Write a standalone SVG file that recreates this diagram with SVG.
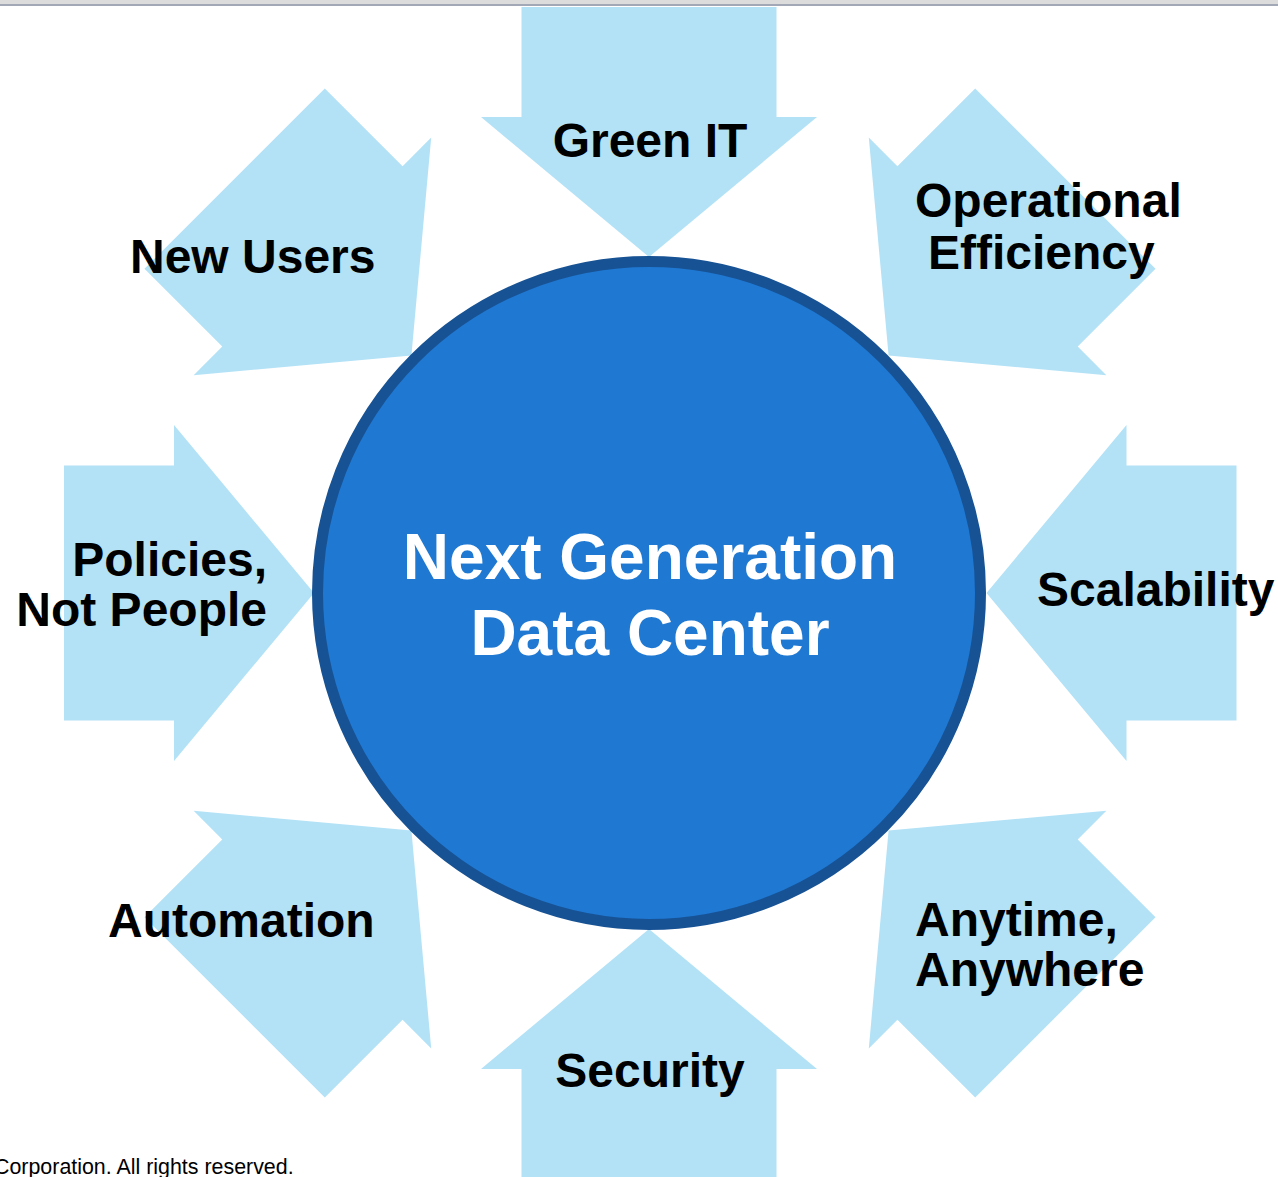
<svg xmlns="http://www.w3.org/2000/svg" xmlns:xlink="http://www.w3.org/1999/xlink" width="1278" height="1177" viewBox="0 0 1278 1177">
  <style>
    .arrow { fill: #b3e2f7; }
    .lbl { font-family: "Liberation Sans", Arial, sans-serif; font-weight: bold; font-size: 48px; fill: #000; }
    .mid { text-anchor: middle; }
    .hub { fill: #1f78d2; stroke: #175294; stroke-width: 11; }
    .hubtxt { font-family: "Liberation Sans", Arial, sans-serif; font-weight: bold; font-size: 64px; fill: #fff; text-anchor: middle; }
    .copy { font-family: "Liberation Sans", Arial, sans-serif; font-size: 21.4px; fill: #000; }
  </style>
  <defs>
    <path id="arr" d="M-127.5,-586 H127.5 V-476 H168 L0,-336 L-168,-476 H-127.5 Z"/>
  </defs>
  <rect x="0" y="0" width="1278" height="1177" fill="#fff"/>
  <rect x="0" y="0" width="1278" height="4" fill="#dcdcdc"/>
  <rect x="0" y="4" width="1278" height="2" fill="#a3a8b6"/>

  <g id="arrow-shapes">
    <use xlink:href="#arr" href="#arr" class="arrow" transform="translate(649,593)"/>
    <use xlink:href="#arr" href="#arr" class="arrow" transform="translate(651,593) rotate(45)"/>
    <use xlink:href="#arr" href="#arr" class="arrow" transform="translate(650.5,593) rotate(90)"/>
    <use xlink:href="#arr" href="#arr" class="arrow" transform="translate(651,593) rotate(135)"/>
    <use xlink:href="#arr" href="#arr" class="arrow" transform="translate(649,593) rotate(180)"/>
    <use xlink:href="#arr" href="#arr" class="arrow" transform="translate(649,593) rotate(-135)"/>
    <use xlink:href="#arr" href="#arr" class="arrow" transform="translate(650,593) rotate(-90)"/>
    <use xlink:href="#arr" href="#arr" class="arrow" transform="translate(649,593) rotate(-45)"/>
  </g>

  <g id="center">
    <circle class="hub" cx="649" cy="593" r="331.5"/>
    <text class="hubtxt" x="650" y="579">Next Generation</text>
    <text class="hubtxt" x="650" y="655">Data Center</text>
  </g>

  <g id="green-it"><text class="lbl mid" x="650" y="157">Green IT</text></g>
  <g id="operational-efficiency">
    <text class="lbl" x="915" y="217">Operational</text>
    <text class="lbl" x="928" y="269">Efficiency</text>
  </g>
  <g id="scalability"><text class="lbl" x="1037" y="606">Scalability</text></g>
  <g id="anytime-anywhere">
    <text class="lbl" x="915" y="936">Anytime,</text>
    <text class="lbl" x="915" y="986">Anywhere</text>
  </g>
  <g id="security"><text class="lbl mid" x="650" y="1087">Security</text></g>
  <g id="automation"><text class="lbl" x="108" y="937">Automation</text></g>
  <g id="policies-not-people">
    <text class="lbl" x="267" y="576" text-anchor="end">Policies,</text>
    <text class="lbl" x="267" y="626" text-anchor="end">Not People</text>
  </g>
  <g id="new-users"><text class="lbl" x="130" y="273">New Users</text></g>

  <text class="copy" x="-6" y="1174">Corporation. All rights reserved.</text>
</svg>
